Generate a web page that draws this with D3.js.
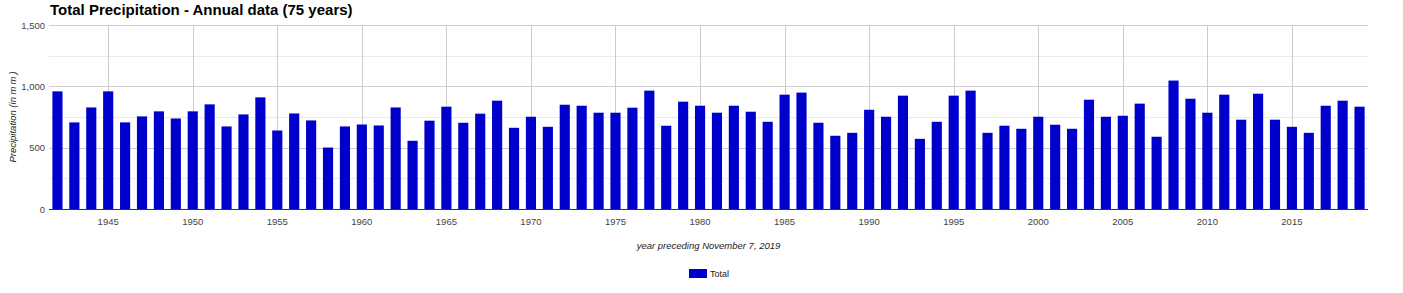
<!DOCTYPE html>
<html>
<head>
<meta charset="utf-8">
<script src="https://cdn.jsdelivr.net/npm/d3@7"></script>
<style>
  body { margin: 0; background: #fff; }
  text { font-family: "Liberation Sans", Arial, sans-serif; }
</style>
</head>
<body>
<div id="chart"></div>
<script>
// Years shown along the x axis
const years = d3.range(1942, 2020);

// Annual total precipitation (mm)
const totals = [
  959, 706, 828, 959, 706, 755, 796, 738, 796, 853,
  673, 771, 910, 640, 779, 722, 501, 673, 689, 681,
  828, 556, 720, 834, 703, 777, 883, 662, 752, 670,
  850, 842, 785, 785, 826, 965, 679, 875, 842, 785,
  842, 793, 711, 932, 949, 703, 597, 621, 809, 752,
  924, 572, 711, 924, 965, 621, 679, 654, 752, 687,
  654, 891, 752, 760, 859, 589, 1047, 899, 785, 932,
  728, 940, 728, 670, 621, 842, 883, 834
];

const yMajor = [0, 500, 1000, 1500];
const yMinor = [250, 750, 1250];
const xTicks = [1945, 1950, 1955, 1960, 1965, 1970, 1975, 1980, 1985, 1990, 1995, 2000, 2005, 2010, 2015];

const W = 1403, H = 293;
const plotL = 49, plotR = 1368, plotT = 25, plotB = 209;
const barColor = "#0000cc";

const svg = d3.select("#chart").append("svg")
  .attr("width", W).attr("height", H);

const x = d3.scaleBand().domain(years).range([plotL, plotR]).paddingInner(0.4).paddingOuter(0.2);
const y = d3.scaleLinear().domain([0, 1500]).range([plotB, plotT]);

// Minor horizontal gridlines
svg.append("g").selectAll("line").data(yMinor).join("line")
  .attr("x1", plotL).attr("x2", plotR)
  .attr("y1", d => Math.round(y(d)) + 0.5).attr("y2", d => Math.round(y(d)) + 0.5)
  .attr("stroke", "#ebebeb");

// Major horizontal gridlines
svg.append("g").selectAll("line").data(yMajor.filter(d => d > 0)).join("line")
  .attr("x1", plotL).attr("x2", plotR)
  .attr("y1", d => Math.round(y(d)) + 0.5).attr("y2", d => Math.round(y(d)) + 0.5)
  .attr("stroke", "#cccccc");

// Vertical gridlines at labelled years
svg.append("g").selectAll("line").data(xTicks).join("line")
  .attr("x1", d => Math.round(x(d) + x.bandwidth() / 2) + 0.5)
  .attr("x2", d => Math.round(x(d) + x.bandwidth() / 2) + 0.5)
  .attr("y1", plotT).attr("y2", plotB)
  .attr("stroke", "#cccccc");

// Bars
svg.append("g").selectAll("rect").data(totals).join("rect")
  .attr("x", (d, i) => x(years[i]))
  .attr("y", d => y(d))
  .attr("width", x.bandwidth())
  .attr("height", d => plotB - y(d))
  .attr("fill", barColor);

// Baseline
svg.append("line")
  .attr("x1", plotL).attr("x2", plotR)
  .attr("y1", plotB + 0.5).attr("y2", plotB + 0.5)
  .attr("stroke", "#333333");

// Y tick labels
svg.append("g").selectAll("text").data(yMajor).join("text")
  .attr("x", plotL - 4).attr("y", d => y(d) + 3.5)
  .attr("text-anchor", "end")
  .style("font-size", "9.5px").style("fill", "#444")
  .text(d => d3.format(",")(d));

// X tick labels
svg.append("g").selectAll("text").data(xTicks).join("text")
  .attr("x", d => x(d) + x.bandwidth() / 2).attr("y", 225)
  .attr("text-anchor", "middle")
  .style("font-size", "9.5px").style("fill", "#444")
  .text(d => d);

// Title
svg.append("text")
  .attr("x", 50).attr("y", 15)
  .style("font-size", "15px").style("font-weight", "bold").style("fill", "#000")
  .text("Total Precipitation - Annual data (75 years)");

// Axis titles
svg.append("text")
  .attr("x", (plotL + plotR) / 2).attr("y", 249)
  .attr("text-anchor", "middle")
  .style("font-size", "9.5px").style("font-style", "italic").style("fill", "#222")
  .text("year preceding November 7, 2019");

const yt = svg.append("text")
  .attr("transform", "translate(16," + (plotT + plotB) / 2 + ") rotate(-90)")
  .attr("text-anchor", "middle")
  .style("font-size", "9.5px").style("font-style", "italic").style("fill", "#222");
yt.append("tspan").text("Precipitation (in ");
yt.append("tspan").style("letter-spacing", "2px").text("mm");
yt.append("tspan").text(")");

// Legend
svg.append("rect")
  .attr("x", 689).attr("y", 269).attr("width", 18).attr("height", 9)
  .attr("fill", barColor);
svg.append("text")
  .attr("x", 710).attr("y", 277)
  .style("font-size", "9px").style("fill", "#222")
  .text("Total");
</script>
</body>
</html>
